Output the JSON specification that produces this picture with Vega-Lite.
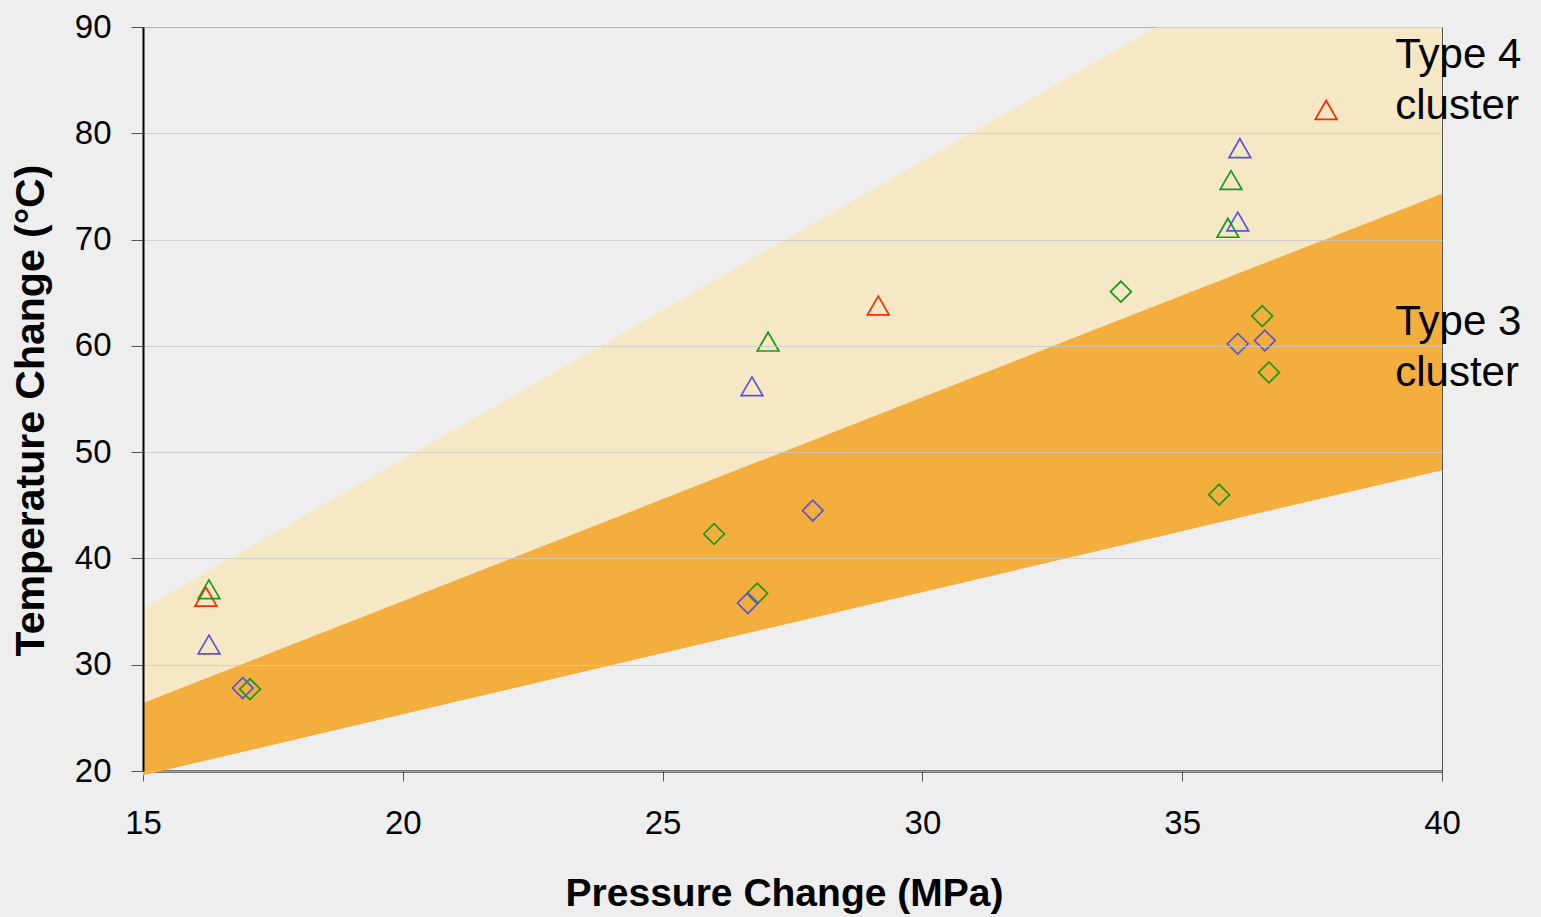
{
  "$schema": "https://vega.github.io/schema/vega-lite/v6.json",
  "width": 1299,
  "height": 744,
  "autosize": {"type": "none"},
  "padding": {"left": 143, "top": 27, "right": 99, "bottom": 146},
  "background": "#eeeeee",
  "view": {"fill": "#eeeeee", "stroke": "#555555", "strokeWidth": 1},
  "config": {"font": "Liberation Sans"},
  "datasets": {
    "bands": [
      {"p": 15, "top": 35.3, "mid": 26.4, "low": 19.6},
      {"p": 34.5, "top": 90, "mid": 63.8, "low": 42.0},
      {"p": 40, "top": 90, "mid": 74.3, "low": 48.3}
    ],
    "points": [
      {"p": 16.21, "t": 36.4, "shape": "triangle", "color": "red"},
      {"p": 29.15, "t": 63.8, "shape": "triangle", "color": "red"},
      {"p": 37.77, "t": 82.2, "shape": "triangle", "color": "red"},
      {"p": 16.27, "t": 37.1, "shape": "triangle", "color": "green"},
      {"p": 27.03, "t": 60.4, "shape": "triangle", "color": "green"},
      {"p": 35.94, "t": 75.6, "shape": "triangle", "color": "green"},
      {"p": 35.88, "t": 71.1, "shape": "triangle", "color": "green"},
      {"p": 16.27, "t": 31.9, "shape": "triangle", "color": "blue"},
      {"p": 26.72, "t": 56.2, "shape": "triangle", "color": "blue"},
      {"p": 36.11, "t": 78.6, "shape": "triangle", "color": "blue"},
      {"p": 36.07, "t": 71.7, "shape": "triangle", "color": "blue"},
      {"p": 17.06, "t": 27.7, "shape": "diamond", "color": "green"},
      {"p": 25.99, "t": 42.3, "shape": "diamond", "color": "green"},
      {"p": 26.82, "t": 36.7, "shape": "diamond", "color": "green"},
      {"p": 33.82, "t": 65.1, "shape": "diamond", "color": "green"},
      {"p": 36.54, "t": 62.8, "shape": "diamond", "color": "green"},
      {"p": 36.67, "t": 57.5, "shape": "diamond", "color": "green"},
      {"p": 35.71, "t": 46.0, "shape": "diamond", "color": "green"},
      {"p": 16.92, "t": 27.8, "shape": "diamond", "color": "blue"},
      {"p": 26.64, "t": 35.8, "shape": "diamond", "color": "blue"},
      {"p": 27.89, "t": 44.5, "shape": "diamond", "color": "blue"},
      {"p": 36.07, "t": 60.2, "shape": "diamond", "color": "blue"},
      {"p": 36.59, "t": 60.5, "shape": "diamond", "color": "blue"}
    ],
    "labels": [
      {"p": 39.1, "t": 86.14, "label": "Type 4"},
      {"p": 39.1, "t": 81.34, "label": "cluster"},
      {"p": 39.1, "t": 61.02, "label": "Type 3"},
      {"p": 39.1, "t": 56.22, "label": "cluster"}
    ]
  },
  "layer": [
    {
      "data": {"name": "bands"},
      "mark": {"type": "area", "color": "#f6e8c4", "opacity": 1},
      "encoding": {
        "x": {"field": "p", "type": "quantitative", "scale": {"domain": [15, 40], "nice": false, "zero": false},
          "axis": {"values": [15, 20, 25, 30, 35, 40], "title": "Pressure Change (MPa)", "grid": false, "labelFlush": false,
            "domain": true, "domainColor": "#000000", "domainWidth": 2, "tickColor": "#555555", "tickSize": 10, "tickWidth": 1,
            "labelFontSize": 33, "labelColor": "#000000", "labelPadding": 26, "labelFont": "Liberation Sans",
            "titleFontSize": 39, "titleFontWeight": "bold", "titleColor": "#000000", "titlePadding": 34, "titleFont": "Liberation Sans", "titleX": 641}},
        "y": {"field": "top", "type": "quantitative", "scale": {"domain": [20, 90], "nice": false, "zero": false},
          "axis": {"values": [20, 30, 40, 50, 60, 70, 80, 90], "title": "Temperature Change (°C)", "grid": true, "labelFlush": false,
            "gridColor": "#c8c8c8", "gridOpacity": 0.8, "gridWidth": 1, "zindex": 1,
            "domain": true, "domainColor": "#000000", "domainWidth": 2, "tickColor": "#555555", "tickSize": 12, "tickWidth": 1,
            "labelFontSize": 33, "labelColor": "#000000", "labelPadding": 20, "labelFont": "Liberation Sans",
            "titleFontSize": 41, "titleFontWeight": "bold", "titleColor": "#000000", "titlePadding": 22, "titleFont": "Liberation Sans", "titleY": 383}},
        "y2": {"field": "mid"}
      }
    },
    {
      "data": {"name": "bands"},
      "mark": {"type": "area", "color": "#f4ae3e", "opacity": 1},
      "encoding": {
        "x": {"field": "p", "type": "quantitative"},
        "y": {"field": "mid", "type": "quantitative"},
        "y2": {"field": "low"}
      }
    },
    {
      "data": {"name": "points"},
      "mark": {"type": "point", "filled": false, "strokeWidth": 1.7, "opacity": 1},
      "encoding": {
        "x": {"field": "p", "type": "quantitative"},
        "y": {"field": "t", "type": "quantitative"},
        "size": {"field": "shape", "type": "nominal", "scale": {"domain": ["triangle", "diamond"], "range": [470, 430]}, "legend": null},
        "shape": {"field": "shape", "type": "nominal", "scale": {"domain": ["triangle", "diamond"], "range": ["triangle-up", "diamond"]}, "legend": null},
        "color": {"field": "color", "type": "nominal", "scale": {"domain": ["red", "green", "blue"], "range": ["#ff2a00", "#1a9a1a", "#5555dd"]}, "legend": null}
      }
    },
    {
      "data": {"name": "labels"},
      "mark": {"type": "text", "align": "left", "baseline": "alphabetic", "fontSize": 42, "font": "Liberation Sans", "color": "#000000"},
      "encoding": {
        "x": {"field": "p", "type": "quantitative"},
        "y": {"field": "t", "type": "quantitative"},
        "text": {"field": "label", "type": "nominal"}
      }
    }
  ]
}
